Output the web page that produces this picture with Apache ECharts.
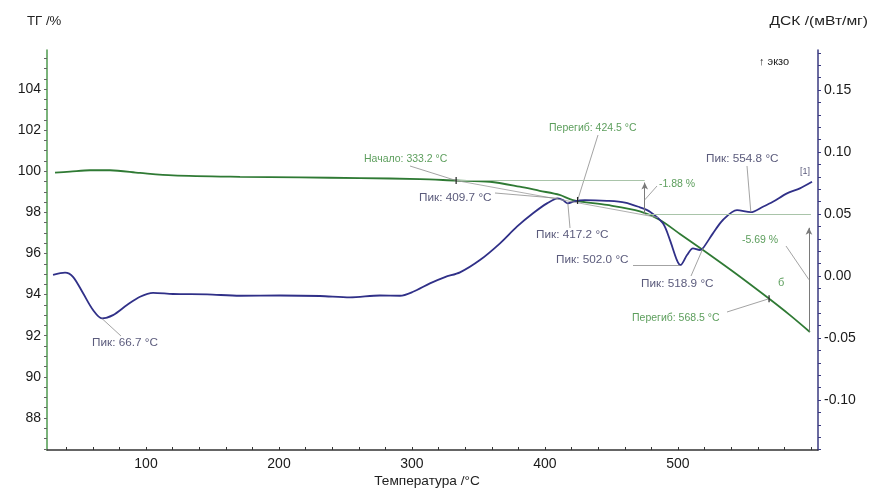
<!DOCTYPE html>
<html>
<head>
<meta charset="utf-8">
<script src="https://cdn.jsdelivr.net/npm/echarts@6/dist/echarts.min.js"></script>
<style>
html,body{margin:0;padding:0;background:#fff;}
#c{width:872px;height:489px;}
</style>
</head>
<body>
<div id="c"></div>
<script>
// ---- data ----
const tgTemp = [31.6, 42.9, 57.9, 72.9, 95.5, 120.3, 170.7, 215.8, 260.9, 306, 333, 358.6, 381, 396, 411, 421, 446.6, 471.4, 486.5, 501.5, 518.8, 542.9, 566.9, 584.2, 599.2];
const tgValues = [99.93, 99.98, 100.05, 100.05, 99.92, 99.80, 99.73, 99.70, 99.67, 99.62, 99.55, 99.49, 99.25, 99.05, 98.85, 98.6, 98.36, 98.05, 97.63, 96.95, 96.17, 95.05, 93.88, 93.0, 92.18];

const dscTemp = [30.1, 39.1, 45.1, 52.6, 60.2, 66.9, 75.2, 85.7, 95.5, 105.3, 120.3, 145.9, 170.7, 200.8, 230.8, 253.4, 275.9, 291, 300.8, 313.5, 324.8, 336.1, 351.1, 366.2, 378.9, 391, 401.5, 409.7, 413.5, 417.2, 422.6, 430, 446.6, 460.2, 471.4, 478.9, 488.7, 494, 499.2, 502, 506.8, 511.3, 516.5, 518.9, 526.3, 533.8, 544.4, 554.8, 563.9, 571.4, 582, 591.7, 600.8];
const dscValues = [0.001, 0.0027, -0.0006, -0.0137, -0.0274, -0.0341, -0.0315, -0.0234, -0.0167, -0.0135, -0.0145, -0.0148, -0.0159, -0.0157, -0.0161, -0.0172, -0.0157, -0.0159, -0.0127, -0.0059, -0.0008, 0.003, 0.0129, 0.0264, 0.0398, 0.0506, 0.0586, 0.0627, 0.0613, 0.0586, 0.0605, 0.0613, 0.0607, 0.0593, 0.0554, 0.0519, 0.0425, 0.029, 0.0129, 0.0089, 0.0169, 0.0223, 0.021, 0.0226, 0.0344, 0.0452, 0.0532, 0.0515, 0.0559, 0.0599, 0.0667, 0.0707, 0.076];

const xTickLabels = [100, 200, 300, 400, 500];
const tgTickLabels = [88, 90, 92, 94, 96, 98, 100, 102, 104];
const dscTickLabels = [-0.10, -0.05, 0.00, 0.05, 0.10, 0.15];

// annotations: text, temperature, value on the curve
const dscNotes = [
  ['Пик: 66.7 °C', 66.7, -0.0341],
  ['Пик: 409.7 °C', 409.7, 0.0627],
  ['Пик: 417.2 °C', 417.2, 0.0586],
  ['Пик: 502.0 °C', 502.0, 0.0089],
  ['Пик: 518.9 °C', 518.9, 0.0226],
  ['Пик: 554.8 °C', 554.8, 0.0515]
];
const tgNotes = [
  ['Начало: 333.2 °C', 333.2, 99.55],
  ['Перегиб: 424.5 °C', 424.5, 98.58],
  ['Перегиб: 568.5 °C', 568.5, 93.8]
];
// mass-loss steps: text, temperature of arrow, from value, to value
const tgSteps = [
  ['-1.88 %', 475, 97.92, 99.45],
  ['-5.69 %', 598.5, 92.2, 97.25]
];
const tgLevels = [[333.2, 475, 99.55], [475, 600, 97.92]];

// ---- layout (pixels) for annotation texts ----
const dscNoteLayout = [
  {tx: 92, ty: 343, lx: 121, ly: 336},
  {tx: 419, ty: 198, lx: 495, ly: 193},
  {tx: 536, ty: 235, lx: 570, ly: 228},
  {tx: 556, ty: 260, lx: 633, ly: 265},
  {tx: 641, ty: 284, lx: 691, ly: 276},
  {tx: 706, ty: 159, lx: 747, ly: 166}
];
const tgNoteLayout = [
  {tx: 364, ty: 159, lx: 410, ly: 166},
  {tx: 549, ty: 128, lx: 598, ly: 135},
  {tx: 632, ty: 318, lx: 727, ly: 312}
];
const tgStepLayout = [
  {tx: 659, ty: 184, lx: 657, ly: 186, frac: 0.45},
  {tx: 742, ty: 240, lx: 786, ly: 246, frac: 0.5}
];

const TXT_DSC = '#5b5b7c';
const TXT_TG = '#5c9e5c';
const LEAD = '#8c8c8c';
const FONT = '"Liberation Sans", Arial, sans-serif';

function range(a, b, s) { const r = []; for (let v = a; v <= b + 1e-9; v += s) r.push(+v.toFixed(4)); return r; }

const chart = echarts.init(document.getElementById('c'), null, {renderer: 'canvas'});

const dscMarkLines = dscNotes.map((n, i) => [
  {coord: [n[1], n[2]], symbol: 'none'},
  {x: dscNoteLayout[i].lx, y: dscNoteLayout[i].ly, symbol: 'none'}
]);
const tgMarkLines = [];
tgNotes.forEach((n, i) => tgMarkLines.push([
  {coord: [n[1], n[2]], symbol: 'none'},
  {x: tgNoteLayout[i].lx, y: tgNoteLayout[i].ly, symbol: 'none'}
]));
tgLevels.forEach(l => tgMarkLines.push([
  {coord: [l[0], l[2]], symbol: 'none', lineStyle: {color: '#a9c4a9', width: 1.2}},
  {coord: [l[1], l[2]], symbol: 'none'}
]));
tgSteps.forEach((s, i) => {
  tgMarkLines.push([
    {coord: [s[1], s[2]], symbol: 'none', lineStyle: {color: '#7a7a7a', width: 1}},
    {coord: [s[1], s[3]], symbol: 'arrow', symbolSize: [5, 7]}
  ]);
  tgMarkLines.push([
    {coord: [s[1], s[2] + (s[3] - s[2]) * tgStepLayout[i].frac], symbol: 'none'},
    {x: tgStepLayout[i].lx, y: tgStepLayout[i].ly, symbol: 'none'}
  ]);
});
// tangent of the first step
tgMarkLines.push([
  {coord: [333.2, 99.55], symbol: 'none', lineStyle: {color: '#9a9a9a', width: 0.8}},
  {coord: [485, 97.75], symbol: 'none'}
]);

function txt(x, y, s, color, size, align, sx) {
  return {type: 'text', x: x, y: y, scaleX: sx || 1,
    style: {text: s, fill: color, font: size + 'px ' + FONT, textAlign: align || 'left', textVerticalAlign: 'middle'}};
}
const texts = [];
dscNotes.forEach((n, i) => texts.push(txt(dscNoteLayout[i].tx, dscNoteLayout[i].ty, n[0], TXT_DSC, 10.5, 'left', 1.12)));
tgNotes.forEach((n, i) => texts.push(txt(tgNoteLayout[i].tx, tgNoteLayout[i].ty, n[0], TXT_TG, 10.5, 'left', 1.0)));
tgSteps.forEach((s, i) => texts.push(txt(tgStepLayout[i].tx, tgStepLayout[i].ty, s[0], TXT_TG, 10.5, 'left', 1.0)));
texts.push(txt(27, 22, 'ТГ /%', '#222', 12, 'left', 1.1));
texts.push(txt(868, 22, 'ДСК /(мВт/мг)', '#222', 12, 'right', 1.3));
texts.push(txt(759, 62, '↑ экзо', '#222', 11, 'left', 1.0));
texts.push(txt(427, 481, 'Температура /°C', '#222', 13, 'center', 1.05));
texts.push(txt(800, 172, '[1]', TXT_DSC, 9, 'left', 1.0));
texts.push(txt(778, 283, 'б', TXT_TG, 11, 'left', 1.0));

const option = {
  animation: false,
  backgroundColor: '#fff',
  grid: {left: 47, right: 54, top: 50, bottom: 39, containLabel: false},
  xAxis: {
    type: 'value', min: 25.56, max: 605.3,
    axisLine: {show: true, onZero: false, lineStyle: {color: '#333', width: 1.5}},
    axisTick: {show: true, inside: true, length: 3, lineStyle: {color: '#333'}, customValues: range(40, 600, 20)},
    axisLabel: {customValues: xTickLabels, color: '#1a1a1a', fontSize: 14, fontFamily: FONT, margin: 7},
    splitLine: {show: false}
  },
  yAxis: [
    {
      type: 'value', min: 86.44, max: 105.9, position: 'left',
      axisLine: {show: true, lineStyle: {color: '#4e9a4e', width: 1.5}},
      axisTick: {show: true, length: 3, lineStyle: {color: '#666'}, customValues: range(86.5, 105.5, 0.5)},
      axisLabel: {customValues: tgTickLabels, color: '#1a1a1a', fontSize: 14, fontFamily: FONT, margin: 6},
      splitLine: {show: false}
    },
    {
      type: 'value', min: -0.1403, max: 0.1823, position: 'right',
      axisLine: {show: true, lineStyle: {color: '#3a3a80', width: 1.5}},
      axisTick: {show: true, length: 3, lineStyle: {color: '#3a3a80'}, customValues: range(-0.14, 0.18, 0.01)},
      axisLabel: {customValues: dscTickLabels, formatter: v => v.toFixed(2), color: '#1a1a1a', fontSize: 14, fontFamily: FONT, margin: 6},
      splitLine: {show: false}
    }
  ],
  series: [
    {
      name: 'ТГ', type: 'line', yAxisIndex: 0, smooth: 0.3, symbol: 'none',
      data: tgTemp.map((t, i) => [t, tgValues[i]]),
      lineStyle: {color: '#2f7a34', width: 1.8}, z: 3,
      markLine: {silent: true, symbol: 'none', animation: false, label: {show: false},
        lineStyle: {color: LEAD, width: 0.8, type: 'solid'}, data: tgMarkLines},
      markPoint: {silent: true, symbol: 'rect', symbolSize: [1.2, 7], itemStyle: {color: '#222'}, label: {show: false},
        data: tgNotes.map(n => ({coord: [n[1], n[2]]}))}
    },
    {
      name: 'ДСК', type: 'line', yAxisIndex: 1, smooth: 0.3, symbol: 'none',
      data: dscTemp.map((t, i) => [t, dscValues[i]]),
      lineStyle: {color: '#303088', width: 1.8}, z: 4,
      markLine: {silent: true, symbol: 'none', animation: false, label: {show: false},
        lineStyle: {color: LEAD, width: 0.8, type: 'solid'}, data: dscMarkLines}
    }
  ],
  graphic: texts
};
chart.setOption(option);
</script>
</body>
</html>
